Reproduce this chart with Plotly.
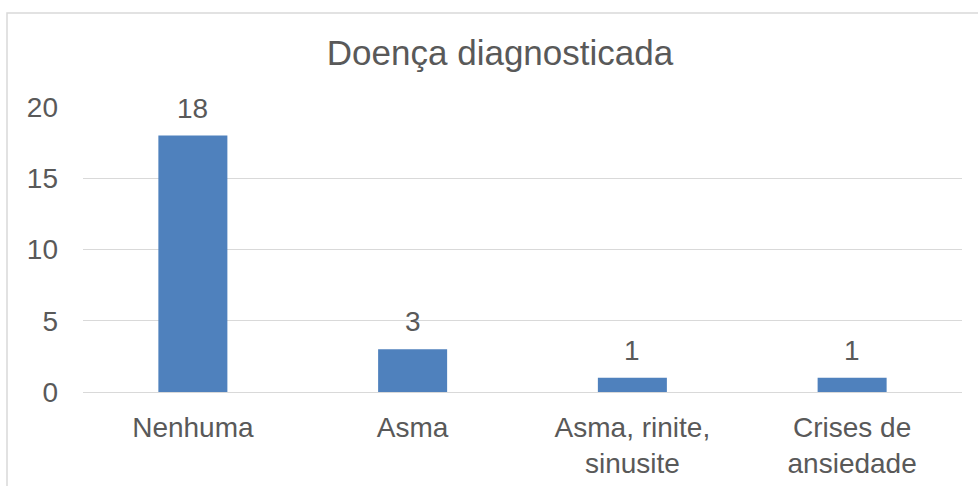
import plotly.graph_objects as go

# Chart data
categories = ["Nenhuma", "Asma", "Asma, rinite, sinusite", "Crises de ansiedade"]
tick_labels = ["Nenhuma", "Asma", "Asma, rinite,<br>sinusite", "Crises de<br>ansiedade"]
counts = [18, 3, 1, 1]
y_ticks = [0, 5, 10, 15, 20]

FONT = "Liberation Sans, Arial, sans-serif"
TEXT = "#595959"
GRID = "#D9D9D9"
BAR = "#4F81BD"

W, H = 978, 486
ml, mr, mt, mb = 83, 16, 107, 94
pw, ph = W - ml - mr, H - mt - mb

fig = go.Figure(go.Bar(
    x=categories,
    y=counts,
    marker_color=BAR,
    marker_line_width=0,
    hoverinfo="x+y",
))

# data labels above the bars
for c, v in zip(categories, counts):
    fig.add_annotation(
        x=c, y=v, text=str(v), showarrow=False,
        yanchor="bottom", yshift=10,
        font=dict(family=FONT, size=28, color=TEXT),
    )

# light chart border (Excel style), cut off at the bottom
fig.add_shape(
    type="rect", xref="paper", yref="paper",
    x0=(7 - ml) / pw, x1=(W + 5 - ml) / pw,
    y0=-(mb + 30) / ph, y1=(H - mb - 13) / ph,
    line=dict(color=GRID, width=1.5), layer="below",
)

fig.update_layout(
    width=W, height=H,
    margin=dict(l=ml, r=mr, t=mt, b=mb),
    paper_bgcolor="white",
    plot_bgcolor="white",
    bargap=0.686,
    showlegend=False,
    font=dict(family=FONT, size=28, color=TEXT),
    title=dict(
        text="Doença diagnosticada",
        x=500 / W, xanchor="center",
        y=1 - 53 / H, yanchor="middle",
        font=dict(family=FONT, size=35, color=TEXT),
    ),
)

fig.update_xaxes(
    tickmode="array", tickvals=categories, ticktext=tick_labels,
    showgrid=False, showline=False, ticks="",
    ticklabelstandoff=16, automargin=False,
    tickfont=dict(size=28, color=TEXT),
)
fig.update_yaxes(
    range=[0, 20], tickvals=y_ticks,
    showgrid=True, gridcolor=GRID, gridwidth=1.3,
    zeroline=True, zerolinecolor=GRID, zerolinewidth=1.3,
    showline=False, ticks="",
    ticklabelstandoff=24, automargin=False,
    tickfont=dict(size=28, color=TEXT),
)

# drop the default page margin so the figure fills the window exactly
fig.write_html(
    "out.html",
    config={"displayModeBar": False},
    post_script="document.body.style.margin='0';",
)
